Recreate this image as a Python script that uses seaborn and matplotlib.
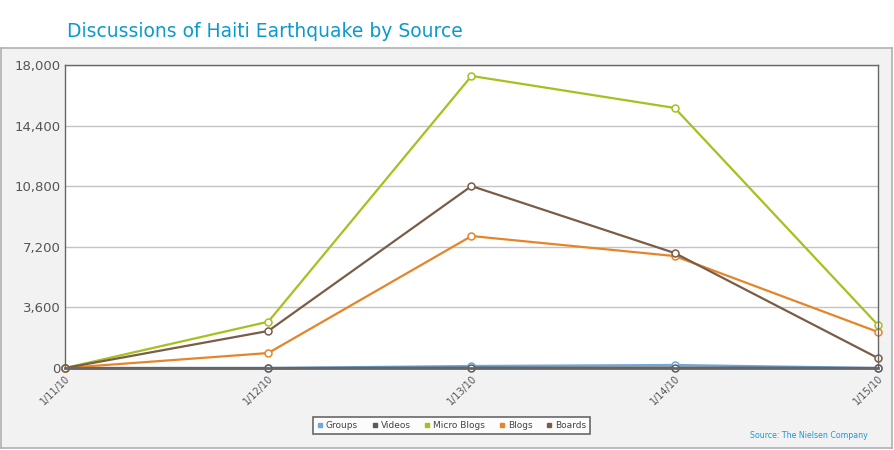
import pandas as pd
import numpy as np
import seaborn as sns
import matplotlib.pyplot as plt
from matplotlib.lines import Line2D
from matplotlib.ticker import FuncFormatter

# data
dates = ['1/11/10', '1/12/10', '1/13/10', '1/14/10', '1/15/10']
sources = ['Groups', 'Videos', 'Micro Blogs', 'Blogs', 'Boards']
groups = [0, 0, 120, 180, 0]
videos = [0, 0, 20, 30, 0]
micro_blogs = [0, 2750, 17350, 15450, 2550]
blogs = [0, 890, 7840, 6650, 2140]
boards = [0, 2200, 10810, 6830, 590]
colors = ['#6fa8dc', '#5a5a5a', '#a8bf1e', '#e5852a', '#7a5d47']

df = pd.DataFrame({'date': dates, 'Groups': groups, 'Videos': videos,
                   'Micro Blogs': micro_blogs, 'Blogs': blogs, 'Boards': boards})
df['pos'] = range(len(dates))
long = df.melt(id_vars=['date', 'pos'], value_vars=sources,
               var_name='source', value_name='count')

sns.set_style('white')
fig = plt.figure(figsize=(8.94, 4.5), dpi=100)
fig.patch.set_facecolor('white')

# grey panel behind the chart
bg = fig.add_axes([0.001, 0.004, 0.997, 0.889])
bg.set_facecolor('#f2f2f2')
bg.set_xticks([])
bg.set_yticks([])
for s in bg.spines.values():
    s.set_color('#b0b0b0')
    s.set_linewidth(1.2)

ax = fig.add_axes([0.0727, 0.1822, 0.9094, 0.6733])
ax.set_facecolor('white')
sns.lineplot(data=long, x='pos', y='count', hue='source', hue_order=sources,
             palette=dict(zip(sources, colors)), marker='o', markersize=5,
             markerfacecolor='white', linewidth=1.6, legend=False, ax=ax)
for ln in ax.lines:
    ln.set_markeredgecolor(ln.get_color())
    ln.set_markeredgewidth(1.1)
    ln.set_clip_on(False)

ax.set_xlim(0, len(dates) - 1)
ax.set_ylim(0, 18000)
ax.set_yticks(np.arange(0, 18001, 3600))
ax.yaxis.set_major_formatter(FuncFormatter(lambda v, p: f'{int(v):,}'))
ax.set_xticks(df['pos'])
ax.set_xticklabels(dates, rotation=45, ha='right', rotation_mode='anchor', fontsize=7, color='#555555')
ax.tick_params(axis='y', labelsize=9.5, colors='#555555', length=0, pad=3)
ax.tick_params(axis='x', length=0, pad=4)
ax.grid(axis='y', color='#c4c4c4', lw=1)
ax.set_axisbelow(True)
ax.set_xlabel('')
ax.set_ylabel('')
for side in ['left', 'top', 'right']:
    ax.spines[side].set_color('#666666')
    ax.spines[side].set_linewidth(1)
ax.spines['bottom'].set_color('#666666')
ax.spines['bottom'].set_linewidth(2)

handles = [Line2D([], [], ls='', marker='s', markersize=3.5, color=c) for c in colors]
leg = fig.legend(handles, sources, loc='center', bbox_to_anchor=(0.505, 0.055), ncol=5,
                 fontsize=6.5, frameon=True, fancybox=False, handletextpad=0.3,
                 columnspacing=1.5, borderpad=0.45, handlelength=0.7)
leg.get_frame().set_edgecolor('#444444')
leg.get_frame().set_linewidth(1.2)
leg.get_frame().set_facecolor('white')
for t in leg.get_texts():
    t.set_color('#444444')

fig.text(0.075, 0.93, 'Discussions of Haiti Earthquake by Source', fontsize=13.5,
         color='#0a9ad0', ha='left', va='center')
fig.text(0.971, 0.033, 'Source: The Nielsen Company', fontsize=5.7, color='#1b9ad6',
         ha='right', va='center')

fig.savefig('out.png', dpi=100)
